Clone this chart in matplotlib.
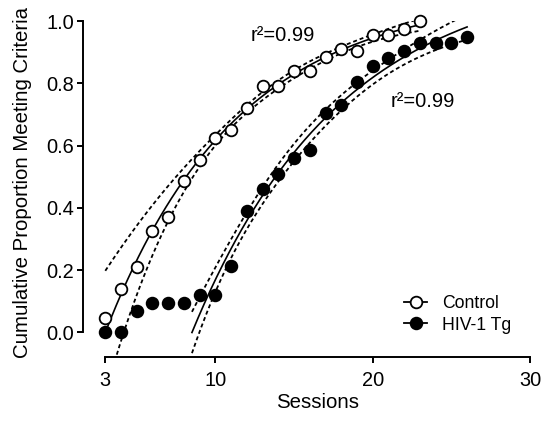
import math
import numpy as np
import matplotlib
matplotlib.use("Agg")
import matplotlib.pyplot as plt
from matplotlib.lines import Line2D

# ---------------- data ----------------
sessions_control = list(range(3, 24))
control = [0.045, 0.14, 0.21, 0.325, 0.37, 0.485, 0.555, 0.625, 0.65, 0.72,
           0.79, 0.79, 0.84, 0.84, 0.885, 0.91, 0.905, 0.955, 0.955, 0.975, 1.0]
sessions_hiv = list(range(3, 27))
hiv = [0.0, 0.0, 0.07, 0.095, 0.095, 0.095, 0.12, 0.12, 0.215, 0.39, 0.46, 0.51,
       0.56, 0.585, 0.705, 0.73, 0.805, 0.855, 0.88, 0.905, 0.93, 0.93, 0.93, 0.95]
fit_start_control = 9   # fits (one-phase association) use sessions >= this
fit_start_hiv = 9
series_labels = ["Control", "HIV-1 Tg"]
r2_text = ["r\u00b2=0.99", "r\u00b2=0.99"]
x_ticks = [3, 10, 20, 30]
y_ticks = [0.0, 0.2, 0.4, 0.6, 0.8, 1.0]
x_label = "Sessions"
y_label = "Cumulative Proportion Meeting Criteria"


# ---------------- one-phase association fit with 95% confidence band ----------------
def model(p, x):
    P, K, X0 = p
    return P * (1 - np.exp(-K * (x - X0)))


def jac(p, x):
    P, K, X0 = p
    e = np.exp(-K * (x - X0))
    return np.column_stack([1 - e, P * (x - X0) * e, -P * K * e])


def fit(x, y):
    p = np.array([1.1, 0.1, x[0] - 0.5])
    lam = 1e-3
    ssr = np.sum((y - model(p, x)) ** 2)
    for _ in range(800):
        r = y - model(p, x)
        J = jac(p, x)
        A = J.T @ J
        g = J.T @ r
        step = np.linalg.solve(A + lam * np.diag(np.diag(A)), g)
        pn = p + step
        ssn = np.sum((y - model(pn, x)) ** 2)
        if ssn < ssr:
            p, ssr = pn, ssn
            lam *= 0.3
        else:
            lam *= 10
    return p


def t_ppf(q, df):
    c = math.exp(math.lgamma((df + 1) / 2) - math.lgamma(df / 2)) / math.sqrt(df * math.pi)

    def cdf(t):
        xs = np.linspace(0, t, 4001)
        pdf = c * (1 + xs ** 2 / df) ** (-(df + 1) / 2)
        return 0.5 + np.trapezoid(pdf, xs)

    lo, hi = 0.0, 30.0
    for _ in range(60):
        mid = (lo + hi) / 2
        if cdf(mid) < q:
            lo = mid
        else:
            hi = mid
    return (lo + hi) / 2


def fit_with_band(sessions, values, start):
    x = np.array(sessions, float)
    y = np.array(values, float)
    m = x >= start
    xf, yf = x[m], y[m]
    p = fit(xf, yf)
    n, k = len(xf), 3
    res = yf - model(p, xf)
    s2 = np.sum(res ** 2) / (n - k)
    J = jac(p, xf)
    cov = s2 * np.linalg.inv(J.T @ J)
    t = t_ppf(0.975, n - k)

    def band(xx):
        G = jac(p, xx)
        return t * np.sqrt(np.einsum("ij,jk,ik->i", G, cov, G))

    return p, band


# ---------------- figure ----------------
plt.rcParams["font.family"] = ["Liberation Sans", "DejaVu Sans"]
W, H = 543, 421
fig = plt.figure(figsize=(W / 100, H / 100), dpi=100)
fig.patch.set_facecolor("white")
ax_left, ax_right, ax_bot, ax_top = 82.5, 530.0, 356.7, 21.0
ax = fig.add_axes([ax_left / W, 1 - ax_bot / H, (ax_right - ax_left) / W, (ax_bot - ax_top) / H])
ax.set_xlim(1.55, 30)
ax.set_ylim(-0.0777, 1.0)

styles = [dict(mfc="white"), dict(mfc="black")]
datasets = [(sessions_control, control, fit_start_control),
            (sessions_hiv, hiv, fit_start_hiv)]
dash = (0, (2.2, 1.6))
for (sx, sy, start), st in zip(datasets, styles):
    p, band = fit_with_band(sx, sy, start)
    x_from = max(p[2], sx[0])
    xx = np.linspace(x_from, sx[-1], 400)
    yy = model(p, xx)
    hw = band(xx)
    ax.plot(xx, yy + hw, color="black", lw=1.3, ls=dash, zorder=2)
    ax.plot(xx, yy - hw, color="black", lw=1.3, ls=dash, zorder=2)
    ax.plot(xx, yy, color="black", lw=1.2, zorder=3)
    ax.plot(sx, sy, ls="none", marker="o", ms=8.4, mec="black", mew=1.3,
            clip_on=False, zorder=4, **st)

# r^2 annotations
ax.text(12.24, 0.937, r2_text[0], fontsize=14.5, ha="left", va="baseline")
ax.text(21.13, 0.725, r2_text[1], fontsize=14.5, ha="left", va="baseline")

# axes styling (offset Prism-like axes)
for side in ["top", "right"]:
    ax.spines[side].set_visible(False)
ax.spines["left"].set_bounds(0, 1.0)
ax.spines["bottom"].set_bounds(3, 30)
for side in ["left", "bottom"]:
    ax.spines[side].set_linewidth(1.4)
ax.set_xticks(x_ticks)
ax.set_xticklabels([str(v) for v in x_ticks])
ax.set_yticks(y_ticks)
ax.set_yticklabels(["%.1f" % v for v in y_ticks])
ax.tick_params(axis="both", direction="out", length=4.3, width=1.4, labelsize=14.4)
ax.tick_params(axis="x", pad=6.3)
ax.tick_params(axis="y", pad=1.8)

ax.set_xlabel(x_label, fontsize=14.7)
ax.xaxis.label.set_va("center")
ax.xaxis.set_label_coords((318 - ax_left) / (ax_right - ax_left), (ax_bot - 402.5) / (ax_bot - ax_top))
ax.set_ylabel(y_label, fontsize=14.7)
ax.yaxis.label.set_va("center")
ax.yaxis.set_label_coords((23 - ax_left) / (ax_right - ax_left), (ax_bot - 182.5) / (ax_bot - ax_top))

handles = [Line2D([], [], color="black", lw=1.3, marker="o", ms=8.4, mec="black", mew=1.3, **st)
           for st in styles]
ax.legend(handles, series_labels, loc="center left",
          bbox_to_anchor=((404 - ax_left) / (ax_right - ax_left), (ax_bot - 314.2) / (ax_bot - ax_top)),
          frameon=False, fontsize=12.7, borderpad=0, borderaxespad=0,
          handlelength=1.31, handletextpad=0.84, labelspacing=0.27)

fig.savefig("out.png", dpi=100, facecolor="white")
